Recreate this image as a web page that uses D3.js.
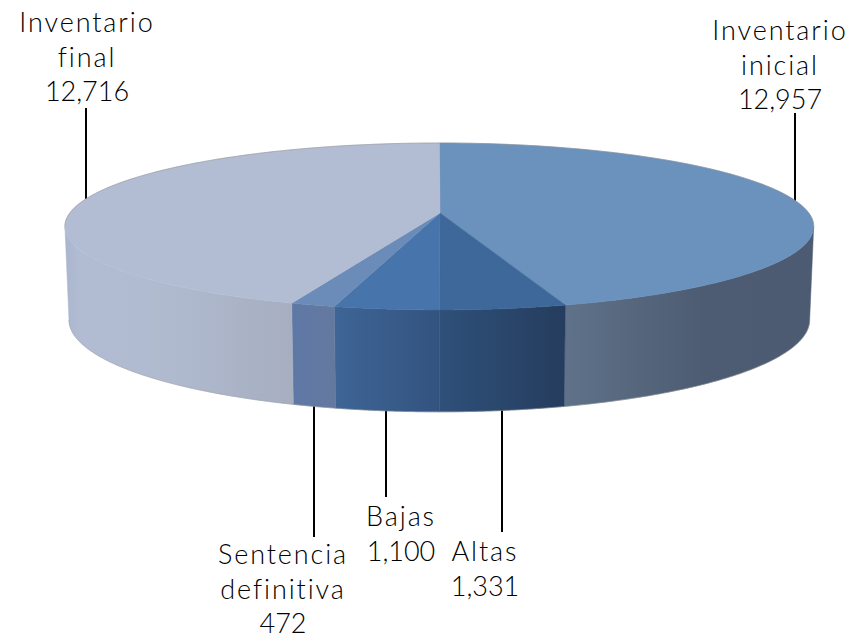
<!DOCTYPE html>
<html>
<head>
<meta charset="utf-8">
<script src="https://cdn.jsdelivr.net/npm/d3@7/dist/d3.min.js"></script>
<style>
html,body{margin:0;padding:0;background:#fff;overflow:hidden}
svg{display:block}
text{font-family:Lato,"Open Sans",sans-serif;font-size:27px;font-weight:300;fill:#000;text-anchor:middle}
</style>
</head>
<body>
<svg id="c" width="852" height="639"></svg>
<script>
// data, clockwise from twelve o'clock
const categories = ["Inventario inicial","Altas","Bajas","Sentencia definitiva","Inventario final"];
const values = [12957,1331,1100,472,12716];
const labelLines = [["Inventario","inicial"],["Altas"],["Bajas"],["Sentencia","definitiva"],["Inventario","final"]];

// styles: each side wall runs left to right through its stops
const topColors = ["#6b91bd","#3d6899","#4674ab","#6b8cb9","#b2bcd2"];
const sideStops = [
  [[0,"#5f7289"],[0.55,"#4d5c72"],[1,"#4c5b71"]],
  [[0,"#2f5079"],[1,"#253d5e"]],
  [[0,"#3e6596"],[1,"#33537f"]],
  [[0,"#5e78a6"],[1,"#64799f"]],
  [[0,"#aab6ce"],[0.06,"#b1bcd3"],[0.45,"#b0bacf"],[1,"#a6aec0"]]
];

// label layout
const labelX = [780,485,401,283,87];
const labelY = [40,561,526,564,32];
const lineGap = 34.5;
const leaderX = [795,502,386,314,86];
const leaderY = [[113,203],[405,532],[405,497],[400,537],[108,199]];
const nameSpacing = 1.9;

// perspective projection of the disc
const cx = 439.3, k = 0.1613;
const topDisc = {A:369.5, B:81.3, yc:213};
const botDisc = {A:365.5, B:89.6, yc:305};
function project(theta, disc){
  const u = Math.sin(theta), v = Math.cos(theta), w = 1 + k*v;
  return [cx + disc.A*u/w, disc.yc - disc.B*v/w];
}
const svg = d3.select("#c");
const defs = svg.append("defs");
const line = d3.line();
const arcs = d3.pie().sort(null).value(d=>d)(values);
const silhouetteL = Math.PI*2 - Math.acos(-k);
const silhouetteR = Math.acos(-k);
const sample = (a,b,disc,n=80)=>d3.range(n+1).map(i=>project(a+(b-a)*i/n,disc));

// leader lines, behind the pie
svg.append("g").selectAll("line").data(values).join("line")
  .attr("x1",(d,i)=>leaderX[i]).attr("x2",(d,i)=>leaderX[i])
  .attr("y1",(d,i)=>leaderY[i][0]).attr("y2",(d,i)=>leaderY[i][1])
  .attr("stroke","#000").attr("stroke-width",2);

// side walls
const sides = svg.append("g");
arcs.forEach((d,i)=>{
  const a = Math.max(d.startAngle,silhouetteR), b = Math.min(d.endAngle,silhouetteL);
  if(b<=a) return;
  const topPts = sample(a,b,topDisc), botPts = sample(b,a,botDisc);
  const xs = topPts.concat(botPts).map(p=>p[0]);
  const g = defs.append("linearGradient").attr("id","side"+i).attr("gradientUnits","userSpaceOnUse")
    .attr("x1",d3.min(xs)).attr("x2",d3.max(xs)).attr("y1",0).attr("y2",0);
  sideStops[i].forEach(s=>g.append("stop").attr("offset",s[0]).attr("stop-color",s[1]));
  sides.append("path").attr("d",line(topPts.concat(botPts))+"Z")
    .attr("fill",`url(#side${i})`).attr("stroke",`url(#side${i})`).attr("stroke-width",0.5);
});
// soft lower rim
svg.append("path").attr("d",line(sample(silhouetteR,silhouetteL,botDisc,160)))
  .attr("fill","none").attr("stroke","#9a9a9a").attr("stroke-opacity",0.45).attr("stroke-width",1);

// top faces
const tops = svg.append("g");
arcs.forEach((d,i)=>{
  const pts = [[cx+0.7,topDisc.yc]].concat(sample(d.startAngle,d.endAngle,topDisc,120));
  tops.append("path").attr("d",line(pts)+"Z").attr("fill",topColors[i])
    .attr("stroke",topColors[i]).attr("stroke-width",0.5);
});
// soft far rim
svg.append("path").attr("d",line(sample(silhouetteL-Math.PI*2,silhouetteR,topDisc,200)))
  .attr("fill","none").attr("stroke","#8f8f8f").attr("stroke-opacity",0.5).attr("stroke-width",1);

// labels
const fmt = d3.format(",");
const labels = svg.append("g");
categories.forEach((c,i)=>{
  labelLines[i].forEach((t,j)=>{
    labels.append("text").attr("x",labelX[i]).attr("y",labelY[i]+j*lineGap)
      .attr("letter-spacing",nameSpacing).text(t);
  });
  labels.append("text").attr("x",labelX[i]).attr("y",labelY[i]+labelLines[i].length*lineGap)
    .text(fmt(values[i]));
});
</script>
</body>
</html>
